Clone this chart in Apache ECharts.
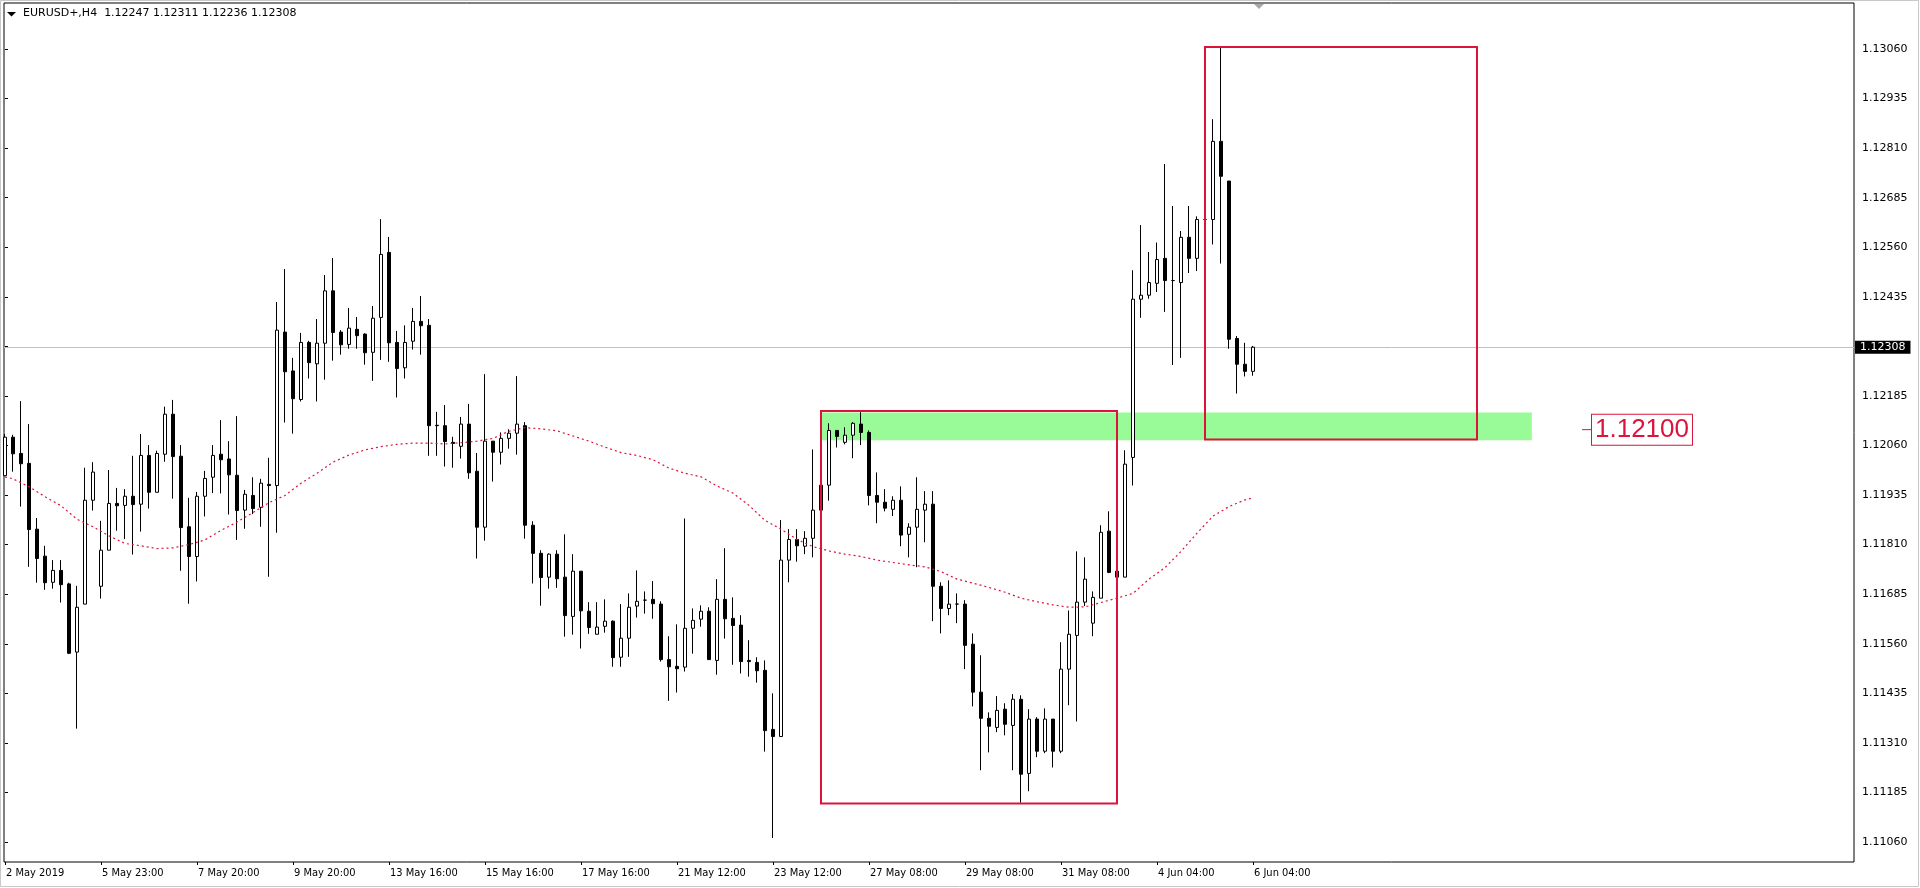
<!DOCTYPE html>
<html><head><meta charset="utf-8">
<script src="https://cdn.jsdelivr.net/npm/echarts@6/dist/echarts.min.js"></script>
<style>html,body{margin:0;padding:0;background:#fff;overflow:hidden}#c{width:1920px;height:888px}</style>
</head><body><div id="c"></div>
<script>
// ---- data (EURUSD+, H4) ----
const opens = [1.11984,1.12081,1.12040,1.12015,1.11849,1.11781,1.11715,1.11745,1.11711,1.11539,
1.11660,1.11922,1.11705,1.11796,1.11914,1.11909,1.11932,1.11912,1.12035,1.11942,
1.12038,1.12139,1.12033,1.11855,1.11780,1.11932,1.11980,1.12038,1.12026,1.11985,
1.11897,1.11934,1.11904,1.11962,1.11959,1.12346,1.12248,1.12176,1.12320,1.12266,
1.12318,1.12450,1.12346,1.12315,1.12353,1.12341,1.12295,1.12383,1.12547,1.12320,
1.12256,1.12323,1.12373,1.12363,1.12111,1.12110,1.12068,1.12058,1.12114,1.11995,
1.11854,1.12071,1.12043,1.12078,1.12091,1.12110,1.11859,1.11788,1.11728,1.11786,
1.11728,1.11629,1.11743,1.11642,1.11584,1.11604,1.11617,1.11526,1.11574,1.11655,
1.11670,1.11672,1.11660,1.11520,1.11503,1.11501,1.11599,1.11622,1.11642,1.11518,
1.11672,1.11624,1.11607,1.11518,1.11513,1.11493,1.11344,1.11326,1.11771,1.11823,
1.11806,1.11826,1.11897,1.11960,1.12098,1.12068,1.12086,1.12114,1.12093,1.11934,
1.11917,1.11899,1.11922,1.11836,1.11854,1.11897,1.11912,1.11705,1.11649,1.11660,
1.11660,1.11559,1.11438,1.11372,1.11349,1.11395,1.11354,1.11420,1.11233,1.11370,
1.11289,1.11370,1.11289,1.11496,1.11581,1.11665,1.11612,1.11675,1.11844,1.11743,
1.11728,1.12030,1.12429,1.12439,1.12469,1.12532,1.12476,1.12471,1.12585,1.12532,
1.12630,1.12630,1.12827,1.12727,1.12330,1.12265,1.12247];
const highs = [1.12089,1.12087,1.12172,1.12114,1.11877,1.11807,1.11771,1.11771,1.11714,1.11706,
1.12004,1.12018,1.11870,1.11998,1.11953,1.11950,1.12034,1.12089,1.12061,1.12047,
1.12158,1.12175,1.12061,1.11928,1.11943,1.11996,1.12061,1.12124,1.12071,1.12134,
1.11948,1.11980,1.11976,1.12029,1.12422,1.12505,1.12281,1.12344,1.12324,1.12379,
1.12490,1.12533,1.12351,1.12407,1.12384,1.12343,1.12412,1.12631,1.12586,1.12349,
1.12363,1.12407,1.12437,1.12379,1.12145,1.12162,1.12082,1.12132,1.12165,1.12041,
1.12240,1.12071,1.12093,1.12101,1.12235,1.12119,1.11869,1.11796,1.11788,1.11796,
1.11836,1.11786,1.11743,1.11665,1.11665,1.11672,1.11619,1.11660,1.11687,1.11745,
1.11692,1.11718,1.11667,1.11579,1.11609,1.11876,1.11649,1.11657,1.11652,1.11723,
1.11801,1.11677,1.11632,1.11569,1.11526,1.11518,1.11435,1.11872,1.11849,1.11849,
1.11844,1.12050,1.11973,1.12116,1.12098,1.12106,1.12119,1.12144,1.12098,1.11992,
1.11950,1.11932,1.11957,1.11864,1.11980,1.11945,1.11945,1.11715,1.11720,1.11687,
1.11670,1.11586,1.11531,1.11387,1.11428,1.11410,1.11433,1.11430,1.11395,1.11375,
1.11397,1.11370,1.11564,1.11644,1.11793,1.11778,1.11692,1.11859,1.11894,1.11743,
1.12048,1.12502,1.12616,1.12548,1.12572,1.12770,1.12664,1.12601,1.12664,1.12638,
1.12634,1.12883,1.13064,1.12727,1.12336,1.12319,1.12311];
const lows = [1.11983,1.11994,1.11906,1.11754,1.11714,1.11696,1.11699,1.11664,1.11534,1.11346,
1.11660,1.11896,1.11674,1.11796,1.11845,1.11824,1.11785,1.11843,1.11901,1.11942,
1.12019,1.11926,1.11744,1.11661,1.11717,1.11881,1.11940,1.11939,1.11886,1.11822,
1.11850,1.11887,1.11855,1.11729,1.11840,1.12118,1.12090,1.12171,1.12229,1.12171,
1.12226,1.12274,1.12289,1.12304,1.12304,1.12264,1.12223,1.12276,1.12271,1.12181,
1.12229,1.12302,1.12289,1.12034,1.12034,1.12007,1.12004,1.12027,1.11976,1.11775,
1.11820,1.11969,1.12012,1.12052,1.12037,1.11825,1.11712,1.11656,1.11699,1.11701,
1.11578,1.11583,1.11548,1.11585,1.11584,1.11588,1.11502,1.11502,1.11527,1.11626,
1.11636,1.11623,1.11515,1.11416,1.11437,1.11490,1.11535,1.11603,1.11520,1.11482,
1.11573,1.11507,1.11485,1.11477,1.11462,1.11288,1.11070,1.11326,1.11715,1.11767,
1.11786,1.11778,1.11897,1.11921,1.12055,1.12063,1.12028,1.12061,1.11909,1.11864,
1.11894,1.11882,1.11806,1.11778,1.11753,1.11816,1.11617,1.11586,1.11632,1.11612,
1.11496,1.11402,1.11241,1.11286,1.11337,1.11329,1.11241,1.11159,1.11188,1.11274,
1.11284,1.11248,1.11284,1.11405,1.11364,1.11655,1.11579,1.11675,1.11738,1.11728,
1.11728,1.11959,1.12382,1.12430,1.12447,1.12397,1.12263,1.12281,1.12495,1.12500,
1.12626,1.12567,1.12519,1.12304,1.12191,1.12234,1.12236];
const closes = [1.12081,1.12039,1.12014,1.11848,1.11775,1.11714,1.11745,1.11709,1.11536,1.11652,
1.11922,1.11993,1.11796,1.11914,1.11908,1.11932,1.11911,1.12035,1.11942,1.12040,
1.12139,1.12032,1.11853,1.11780,1.11932,1.11977,1.12035,1.12024,1.11986,1.11896,
1.11937,1.11901,1.11965,1.11959,1.12351,1.12246,1.12178,1.12320,1.12269,1.12318,
1.12450,1.12345,1.12314,1.12356,1.12337,1.12294,1.12381,1.12542,1.12319,1.12254,
1.12320,1.12373,1.12362,1.12110,1.12110,1.12070,1.12065,1.12114,1.11991,1.11854,
1.12071,1.12043,1.12078,1.12091,1.12114,1.11859,1.11788,1.11727,1.11786,1.11724,
1.11631,1.11743,1.11643,1.11601,1.11602,1.11617,1.11525,1.11574,1.11652,1.11667,
1.11670,1.11661,1.11520,1.11502,1.11497,1.11599,1.11619,1.11642,1.11520,1.11672,
1.11623,1.11606,1.11515,1.11515,1.11492,1.11341,1.11326,1.11771,1.11823,1.11807,
1.11826,1.11897,1.11960,1.12098,1.12083,1.12086,1.12116,1.12093,1.11934,1.11917,
1.11902,1.11922,1.11834,1.11854,1.11899,1.11912,1.11705,1.11649,1.11660,1.11660,
1.11556,1.11438,1.11372,1.11352,1.11392,1.11357,1.11420,1.11231,1.11370,1.11289,
1.11370,1.11289,1.11496,1.11584,1.11665,1.11723,1.11677,1.11841,1.11740,1.11728,
1.12013,1.12429,1.12439,1.12471,1.12529,1.12476,1.12476,1.12585,1.12532,1.12630,
1.12630,1.12827,1.12739,1.12328,1.12265,1.12247,1.12308];
// moving average (dotted red), read at these bar indices
const maBars = [0,1,3,5,7,9,11,13,15,17,19,21,23,25,27,29,31,33,35,37,39,41,43,45,47,49,51,53,55,57,59,61,63,65,67,69,71,73,75,77,79,81,83,85,87,89,91,93,95,97,99,101,103,105,107,109,111,113,115,117,119,121,123,125,127,129,131,133,135,137,139,141,143,145,147,149,151,153,155,156];
const maValues = [1.11981,1.11976,1.11956,1.11931,1.11908,1.11874,1.11855,1.11832,1.11813,1.11807,1.11800,1.11802,1.11810,1.11822,1.11846,1.11867,1.11891,1.11916,1.11934,1.11965,1.11990,1.12018,1.12036,1.12049,1.12057,1.12063,1.12066,1.12066,1.12064,1.12067,1.12071,1.12078,1.12096,1.12105,1.12102,1.12097,1.12084,1.12071,1.12056,1.12042,1.12035,1.12024,1.12003,1.11990,1.11981,1.11958,1.11940,1.11909,1.11871,1.11849,1.11823,1.11805,1.11794,1.11786,1.11780,1.11771,1.11765,1.11759,1.11754,1.11742,1.11723,1.11713,1.11702,1.11690,1.11675,1.11666,1.11658,1.11652,1.11653,1.11664,1.11675,1.11687,1.11723,1.11752,1.11793,1.11839,1.11882,1.11906,1.11923,1.11928];
const yTicks = [1.11060,1.11185,1.11310,1.11435,1.11560,1.11685,1.11810,1.11935,1.12060,1.12185,1.12310,1.12435,1.12560,1.12685,1.12810,1.12935,1.13060];
const yTickShown = [1.11060,1.11185,1.11310,1.11435,1.11560,1.11685,1.11810,1.11935,1.12060,1.12185,1.12435,1.12560,1.12685,1.12810,1.12935,1.13060];
const xTickBars = [0,12,24,36,48,60,72,84,96,108,120,132,144,156];
const xTickLabels = ['2 May 2019','5 May 23:00','7 May 20:00','9 May 20:00','13 May 16:00','15 May 16:00','17 May 16:00','21 May 12:00','23 May 12:00','27 May 08:00','29 May 08:00','31 May 08:00','4 Jun 04:00','6 Jun 04:00'];
const lastPrice = 1.12308;
const zone = {x0: 102, x1: 190.85, low: 1.12073, high: 1.12143};
const boxLeft = {x0: 102, x1: 139, top: 1.12147, bottom: 1.11157};
const boxRight = {x0: 150, x1: 184, top: 1.13065, bottom: 1.12075};
const levelPrice = 1.12100;
const levelBars = [197.125, 198.375];

const candleData = opens.map((o, i) => [i, o, closes[i], lows[i], highs[i]]);
const maData = maBars.map((b, i) => [b, maValues[i]]);

const RED = '#dc143c';
const chart = echarts.init(document.getElementById('c'), null, {renderer: 'canvas'});
chart.setOption({
  animation: false,
  backgroundColor: '#fff',
  title: {
    text: 'EURUSD+,H4  1.12247 1.12311 1.12236 1.12308',
    left: 23, top: 8, padding: 0,
    textStyle: {fontFamily: 'DejaVu Sans', fontSize: 11, fontWeight: 'normal', color: '#000'}
  },
  graphic: [
    {type: 'rect', shape: {x: 0.5, y: 0.5, width: 1918, height: 886}, style: {fill: 'none', stroke: '#c8c8c8', lineWidth: 1}, silent: true},
    {type: 'polygon', shape: {points: [[7, 12], [16, 12], [11.5, 16.5]]}, style: {fill: '#000'}, silent: true},
    {type: 'polygon', shape: {points: [[1254, 4], [1264, 4], [1259, 9]]}, style: {fill: '#a8a8a8'}, silent: true}
  ],
  grid: {left: 4, right: 66, top: 3, bottom: 26, show: true, borderColor: '#000', borderWidth: 1, backgroundColor: 'transparent'},
  xAxis: {
    type: 'value', min: -0.125, max: 231.125,
    axisLine: {show: false},
    splitLine: {show: false},
    axisTick: {show: true, length: 3, customValues: xTickBars, lineStyle: {color: '#000'}},
    axisLabel: {
      customValues: xTickBars,
      formatter: v => xTickLabels[xTickBars.indexOf(Math.round(v))] || '',
      align: 'left', margin: 6, padding: [0, 0, 0, 1],
      fontFamily: 'DejaVu Sans Condensed, Liberation Sans Narrow, sans-serif', fontSize: 11, color: '#000'
    }
  },
  yAxis: {
    type: 'value', position: 'right', min: 1.110096, max: 1.131760, scale: true,
    axisLine: {show: false},
    splitLine: {show: false},
    axisTick: {show: true, length: 3, customValues: yTicks, lineStyle: {color: '#000'}},
    axisLabel: {
      customValues: yTickShown,
      formatter: v => v.toFixed(5),
      margin: 8, fontFamily: 'DejaVu Sans', fontSize: 11, color: '#000'
    }
  },
  series: [
    {
      type: 'line', name: 'price line', data: [], z: 1,
      markLine: {
        silent: true, symbol: ['none', 'none'], animation: false, z: 1, precision: 5,
        lineStyle: {color: '#c0c0c0', width: 1, type: 'solid'},
        label: {
          position: 'end', distance: 1, formatter: lastPrice.toFixed(5),
          backgroundColor: '#000', color: '#fff', padding: [1, 5, 1, 5],
          fontFamily: 'DejaVu Sans', fontSize: 11
        },
        data: [{yAxis: lastPrice}]
      }
    },
    {
      type: 'candlestick', name: 'EURUSD+', data: candleData, barWidth: 4, z: 2, clip: true,
      itemStyle: {color: '#fff', color0: '#000', borderColor: '#000', borderColor0: '#000', borderColorDoji: '#000', borderWidth: 1},
      markArea: {
        silent: true,
        itemStyle: {color: '#98fb98'},
        data: [[{xAxis: zone.x0, yAxis: zone.high}, {xAxis: zone.x1, yAxis: zone.low}]]
      }
    },
    {
      type: 'line', name: 'MA', data: maData, symbol: 'none', z: 4,
      lineStyle: {color: RED, width: 1.2, type: [2, 3]}
    },
    {
      type: 'line', name: 'boxes', data: [], z: 5,
      markArea: {
        silent: true, z: 5,
        itemStyle: {color: 'rgba(0,0,0,0)', borderColor: RED, borderWidth: 2},
        data: [
          [{xAxis: boxLeft.x0, yAxis: boxLeft.top}, {xAxis: boxLeft.x1, yAxis: boxLeft.bottom}],
          [{xAxis: boxRight.x0, yAxis: boxRight.top}, {xAxis: boxRight.x1, yAxis: boxRight.bottom}]
        ]
      }
    },
    {
      type: 'line', name: 'level', z: 6, symbol: 'none',
      data: levelBars.map(b => [b, levelPrice]),
      lineStyle: {color: RED, width: 1},
      endLabel: {
        show: true, formatter: levelPrice.toFixed(5), distance: 0,
        color: RED, fontFamily: 'Liberation Sans', fontSize: 26, lineHeight: 30,
        borderColor: RED, borderWidth: 1, padding: [0, 3, 0, 3], backgroundColor: '#fff'
      }
    }
  ]
});
</script>
</body></html>
